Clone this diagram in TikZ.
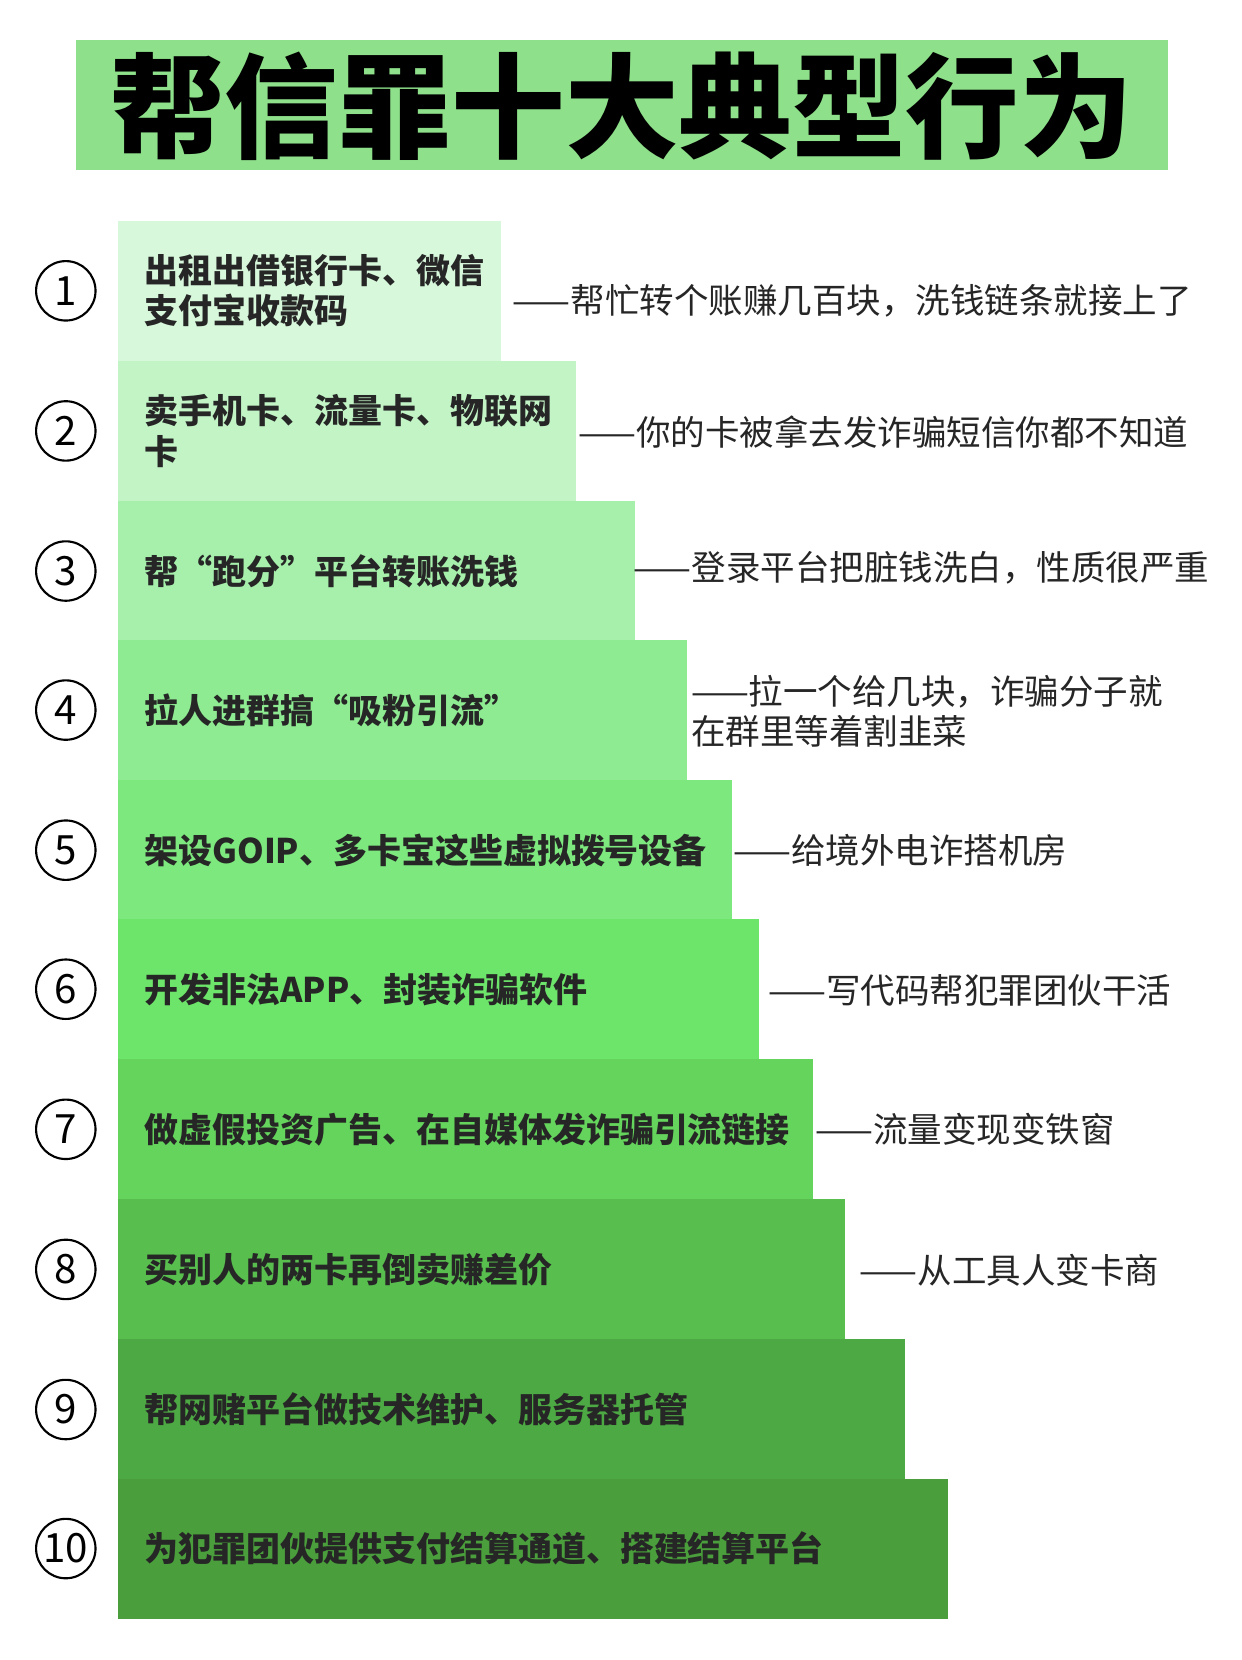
\documentclass[tikz,border=0pt]{standalone}
\usepackage{fontspec}
\setmainfont{Noto Sans CJK SC}
\begin{document}
\begin{tikzpicture}[x=1pt,y=-1pt,
 lbl/.style={anchor=west,inner sep=0pt,font=\fontsize{32}{38}\selectfont\bfseries,text=black!85,align=left},
 note/.style={anchor=west,inner sep=0pt,font=\fontsize{32.5}{38}\selectfont,text=black!85,align=left},
 num/.style={circle,draw=black,line width=2pt,minimum size=56pt,inner sep=0pt,font=\fontsize{38}{38}\selectfont}]
\useasboundingbox[fill=white] (0,0) rectangle (1170,1564);
\fill[fill={rgb,255:red,142;green,224;blue,138}] (72,38) rectangle (1100,160);
\node[font=\fontsize{107}{107}\selectfont\bfseries] (title) at (586,100) {帮信罪十大典型行为};
\foreach \n/\t/\r/\hx/\txt in {
1/208/472/D8F8DC/{出租出借银行卡、微信\\支付宝收款码},
2/340/543/C2F4C6/{卖手机卡、流量卡、物联网\\卡},
3/472/598/A6F0AC/{帮“跑分”平台转账洗钱},
4/603/647/8EEB92/{拉人进群搞“吸粉引流”},
5/735/690/7DE87E/{架设GOIP、多卡宝这些虚拟拨号设备},
6/866/715/6DE46A/{开发非法APP、封装诈骗软件},
7/998/766/64D45C/{做虚假投资广告、在自媒体发诈骗引流链接},
8/1130/796/58BF4F/{买别人的两卡再倒卖赚差价},
9/1262/853/4DA943/{帮网赌平台做技术维护、服务器托管},
10/1393/893/4A9F3C/{为犯罪团伙提供支付结算通道、搭建结算平台}} {
  \definecolor{c\n}{HTML}{\hx}
  \fill[c\n] (111,\t) rectangle (\r,\t+132);
  \node[lbl] (b\n) at (136,\t+66) {\txt};
  \node[num] (n\n) at (62,\t+66) {\n};
}
\node[note] (a1) at (483,283) {——帮忙转个账赚几百块，洗钱链条就接上了};
\node[note] (a2) at (545,407) {——你的卡被拿去发诈骗短信你都不知道};
\node[note] (a3) at (597,535) {——登录平台把脏钱洗白，性质很严重};
\node[note] (a4) at (651,670) {——拉一个给几块，诈骗分子就\\在群里等着割韭菜};
\node[note] (a5) at (691,801) {——给境外电诈搭机房};
\node[note] (a6) at (724,933) {——写代码帮犯罪团伙干活};
\node[note] (a7) at (768,1064) {——流量变现变铁窗};
\node[note] (a8) at (810,1197) {——从工具人变卡商};
\end{tikzpicture}
\end{document}
